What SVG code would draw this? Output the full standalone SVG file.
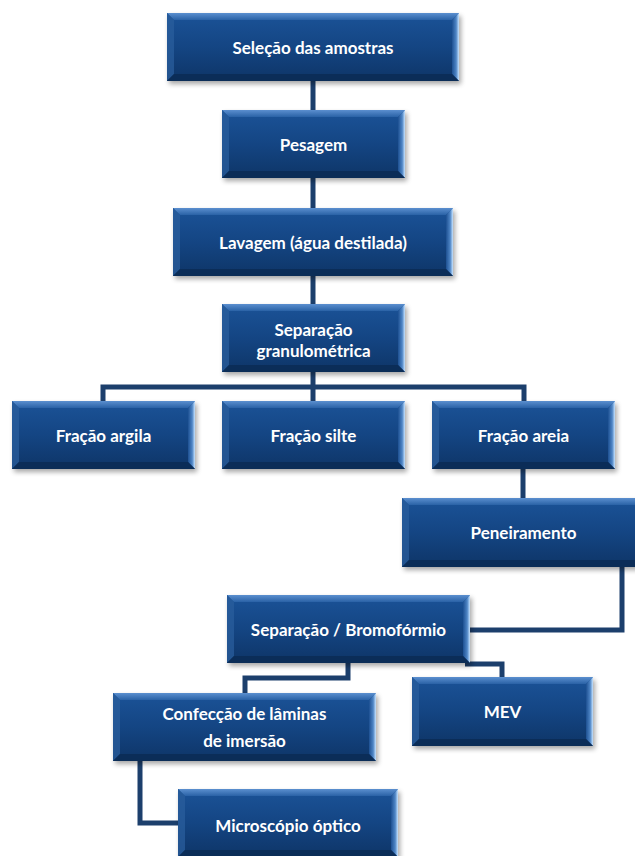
<svg xmlns="http://www.w3.org/2000/svg" width="635" height="856" viewBox="0 0 635 856">
<defs>
<linearGradient id="face" x1="0" y1="0" x2="0" y2="1">
<stop offset="0" stop-color="#1b5398"/>
<stop offset="0.5" stop-color="#144583"/>
<stop offset="1" stop-color="#0e3567"/>
</linearGradient>
<linearGradient id="topB" x1="0" y1="0" x2="0" y2="1">
<stop offset="0" stop-color="#5b8fcf"/>
<stop offset="1" stop-color="#2a62a6"/>
</linearGradient>
<linearGradient id="rightB" x1="0" y1="0" x2="1" y2="0">
<stop offset="0" stop-color="#1d5092"/>
<stop offset="0.6" stop-color="#4f86c6"/>
<stop offset="1" stop-color="#c8e4ff"/>
</linearGradient>
<filter id="sh" x="-10%" y="-20%" width="125%" height="150%">
<feGaussianBlur stdDeviation="2.5"/>
</filter>
</defs>
<style>
.shadow{fill:#000;opacity:.35;filter:url(#sh)}
.base{fill:url(#face)}
.bt{fill:url(#topB)}
.bl{fill:#2a5d9c;opacity:.75}
.br{fill:url(#rightB)}
.bb{fill:#0a2b55;opacity:.85}
.lbl{font-family:Lato,"Liberation Sans",sans-serif;font-weight:bold;font-size:17px;fill:#fff;text-anchor:middle;dominant-baseline:central}
.conn{fill:none;stroke:#1c3f6c;stroke-width:5;stroke-linejoin:miter}
</style>

<g id="connectors">
<path class="conn" d="M313,81 V110"/>
<path class="conn" d="M313,178 V208"/>
<path class="conn" d="M313,276 V304"/>
<path class="conn" d="M313,372 V401"/>
<path class="conn" d="M103,401 V387 H524 V401"/>
<path class="conn" d="M523,469 V498"/>
<path class="conn" d="M622,567 V630 H470"/>
<path class="conn" d="M348,663 V678 H245 V693"/>
<path class="conn" d="M465,664 H502 V677"/>
<path class="conn" d="M140,761 V823 H178"/>
</g>

<g id="n1">
<rect class="shadow" x="169" y="16" width="292" height="68"/>
<rect class="base" x="167" y="13" width="292" height="68"/>
<polygon class="bt" points="167,13 459,13 452,20 174,20"/>
<polygon class="bl" points="167,13 174,20 174,74 167,81"/>
<polygon class="br" points="459,13 459,81 452,74 452,20"/>
<polygon class="bb" points="167,81 459,81 452,74 174,74"/>
<text class="lbl" x="313" y="47">Seleção das amostras</text>
</g>

<g id="n2">
<rect class="shadow" x="224" y="113" width="183" height="68"/>
<rect class="base" x="222" y="110" width="183" height="68"/>
<polygon class="bt" points="222,110 405,110 398,117 229,117"/>
<polygon class="bl" points="222,110 229,117 229,171 222,178"/>
<polygon class="br" points="405,110 405,178 398,171 398,117"/>
<polygon class="bb" points="222,178 405,178 398,171 229,171"/>
<text class="lbl" x="313.5" y="144">Pesagem</text>
</g>

<g id="n3">
<rect class="shadow" x="175" y="211" width="280" height="68"/>
<rect class="base" x="173" y="208" width="280" height="68"/>
<polygon class="bt" points="173,208 453,208 446,215 180,215"/>
<polygon class="bl" points="173,208 180,215 180,269 173,276"/>
<polygon class="br" points="453,208 453,276 446,269 446,215"/>
<polygon class="bb" points="173,276 453,276 446,269 180,269"/>
<text class="lbl" x="313" y="242">Lavagem (água destilada)</text>
</g>

<g id="n4">
<rect class="shadow" x="224" y="307" width="183" height="68"/>
<rect class="base" x="222" y="304" width="183" height="68"/>
<polygon class="bt" points="222,304 405,304 398,311 229,311"/>
<polygon class="bl" points="222,304 229,311 229,365 222,372"/>
<polygon class="br" points="405,304 405,372 398,365 398,311"/>
<polygon class="bb" points="222,372 405,372 398,365 229,365"/>
<text class="lbl" x="313.5" y="329">Separação</text>
<text class="lbl" x="313.5" y="350">granulométrica</text>
</g>

<g id="n5">
<rect class="shadow" x="14" y="404" width="183" height="68"/>
<rect class="base" x="12" y="401" width="183" height="68"/>
<polygon class="bt" points="12,401 195,401 188,408 19,408"/>
<polygon class="bl" points="12,401 19,408 19,462 12,469"/>
<polygon class="br" points="195,401 195,469 188,462 188,408"/>
<polygon class="bb" points="12,469 195,469 188,462 19,462"/>
<text class="lbl" x="103.5" y="435">Fração argila</text>
</g>

<g id="n6">
<rect class="shadow" x="224" y="404" width="183" height="68"/>
<rect class="base" x="222" y="401" width="183" height="68"/>
<polygon class="bt" points="222,401 405,401 398,408 229,408"/>
<polygon class="bl" points="222,401 229,408 229,462 222,469"/>
<polygon class="br" points="405,401 405,469 398,462 398,408"/>
<polygon class="bb" points="222,469 405,469 398,462 229,462"/>
<text class="lbl" x="313.5" y="435">Fração silte</text>
</g>

<g id="n7">
<rect class="shadow" x="434" y="404" width="183" height="68"/>
<rect class="base" x="432" y="401" width="183" height="68"/>
<polygon class="bt" points="432,401 615,401 608,408 439,408"/>
<polygon class="bl" points="432,401 439,408 439,462 432,469"/>
<polygon class="br" points="615,401 615,469 608,462 608,408"/>
<polygon class="bb" points="432,469 615,469 608,462 439,462"/>
<text class="lbl" x="523.5" y="435">Fração areia</text>
</g>

<g id="n8">
<rect class="shadow" x="404" y="501" width="243" height="69"/>
<rect class="base" x="402" y="498" width="243" height="69"/>
<polygon class="bt" points="402,498 645,498 638,505 409,505"/>
<polygon class="bl" points="402,498 409,505 409,560 402,567"/>
<polygon class="br" points="645,498 645,567 638,560 638,505"/>
<polygon class="bb" points="402,567 645,567 638,560 409,560"/>
<text class="lbl" x="523.5" y="532">Peneiramento</text>
</g>

<g id="n9">
<rect class="shadow" x="229" y="598" width="243" height="68"/>
<rect class="base" x="227" y="595" width="243" height="68"/>
<polygon class="bt" points="227,595 470,595 463,602 234,602"/>
<polygon class="bl" points="227,595 234,602 234,656 227,663"/>
<polygon class="br" points="470,595 470,663 463,656 463,602"/>
<polygon class="bb" points="227,663 470,663 463,656 234,656"/>
<text class="lbl" x="348.5" y="629">Separação / Bromofórmio</text>
</g>

<g id="n10">
<rect class="shadow" x="414" y="680" width="181" height="69"/>
<rect class="base" x="412" y="677" width="181" height="69"/>
<polygon class="bt" points="412,677 593,677 586,684 419,684"/>
<polygon class="bl" points="412,677 419,684 419,739 412,746"/>
<polygon class="br" points="593,677 593,746 586,739 586,684"/>
<polygon class="bb" points="412,746 593,746 586,739 419,739"/>
<text class="lbl" x="502.5" y="711">MEV</text>
</g>

<g id="n11">
<rect class="shadow" x="115" y="696" width="263" height="68"/>
<rect class="base" x="113" y="693" width="263" height="68"/>
<polygon class="bt" points="113,693 376,693 369,700 120,700"/>
<polygon class="bl" points="113,693 120,700 120,754 113,761"/>
<polygon class="br" points="376,693 376,761 369,754 369,700"/>
<polygon class="bb" points="113,761 376,761 369,754 120,754"/>
<text class="lbl" x="244.5" y="713">Confecção de lâminas</text>
<text class="lbl" x="244.5" y="740">de imersão</text>
</g>

<g id="n12">
<rect class="shadow" x="180" y="792" width="220" height="68"/>
<rect class="base" x="178" y="789" width="220" height="68"/>
<polygon class="bt" points="178,789 398,789 391,796 185,796"/>
<polygon class="bl" points="178,789 185,796 185,850 178,857"/>
<polygon class="br" points="398,789 398,857 391,850 391,796"/>
<polygon class="bb" points="178,857 398,857 391,850 185,850"/>
<text class="lbl" x="288" y="825">Microscópio óptico</text>
</g>
</svg>
